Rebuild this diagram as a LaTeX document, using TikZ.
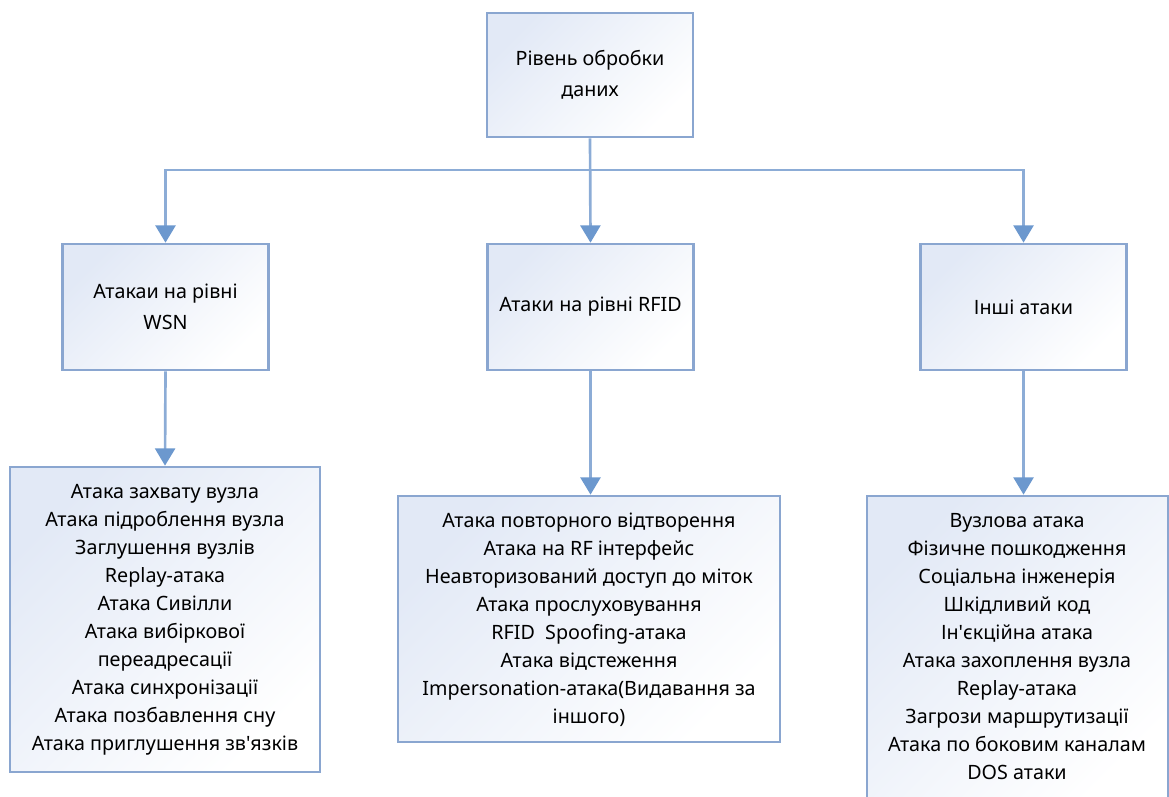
\documentclass[tikz,border=0pt]{standalone}
\usepackage{fontspec}
\setmainfont{Noto Sans}[Ligatures=TeXOff]
\usetikzlibrary{arrows.meta}
\definecolor{lineblue}{RGB}{140,172,214}
\definecolor{tipblue}{RGB}{108,152,206}
\definecolor{boxline}{RGB}{138,166,208}
\definecolor{shadeblue}{RGB}{226,233,246}
\tikzset{
  box/.style={draw=boxline, line width=2pt, rectangle, inner sep=0pt,
    top color=shadeblue, bottom color=white, shading angle=45,
    align=center, font=\fontsize{14.8}{23.3}\selectfont},
  listtext/.style={align=center, inner sep=0pt, font=\fontsize{14.8}{21}\selectfont},
  conn/.style={draw=lineblue, line width=2pt},
  arr/.style={conn, -{Triangle[width=15pt,length=13pt,fill=tipblue,color=tipblue]}},
}
\begin{document}
\begin{tikzpicture}[x=0.75pt,y=-0.75pt]
\useasboundingbox (0,0) rectangle (1169,796);
% top level
\node[box, minimum width=154.5pt, minimum height=93pt] (top) at (590,75) {Рівень обробки\\даних};
% second level
\node[box, minimum width=154.5pt, minimum height=94.5pt] (wsn) at (165.5,307) {Атакаи на рівні\\WSN};
\node[box, minimum width=154.5pt, minimum height=94.5pt] (rfid) at (590.5,307) {Атаки на рівні RFID};
\node[box, minimum width=154.5pt, minimum height=94.5pt] (other) at (1023.5,307) {Інші атаки};
% third level
\node[box, minimum width=232.5pt, minimum height=228.75pt] (wsnlist) at (165,619.5) {};
\node[listtext] (wsnt) at (165,620) {Атака захвату вузла\\Атака підроблення вузла\\Заглушення вузлів\\Replay-атака\\Атака Сивілли\\Атака вибіркової\\переадресації\\Атака синхронізації\\Атака позбавлення сну\\Атака приглушення зв'язків};
\node[box, minimum width=286.5pt, minimum height=184.5pt] (rfidlist) at (589,619) {};
\node[listtext] (rfidt) at (589,619.5) {Атака повторного відтворення\\Атака на RF інтерфейс\\Неавторизований доступ до міток\\Атака прослуховування\\RFID\ \ Spoofing-атака\\Атака відстеження\\Impersonation-атака(Видавання за\\іншого)};
\node[box, minimum width=225.75pt, minimum height=234pt] (otherlist) at (1017.5,652) {};
\node[listtext] (othert) at (1017,646.5) {Вузлова атака\\Фізичне пошкодження\\Соціальна інженерія\\Шкідливий код\\Ін'єкційна атака\\Атака захоплення вузла\\Replay-атака\\Загрози маршрутизації\\Атака по боковим каналам\\DOS атаки};
% connectors
\coordinate (bus) at (0,170);
\draw[arr] (top.south) -- (rfid.north);
\draw[arr] (top.south |- bus) -| (wsn.north);
\draw[arr] (top.south |- bus) -| (other.north);
\draw[arr] (wsn.south) -- (wsnlist.north);
\draw[arr] (rfid.south) -- (rfid.south |- rfidlist.north);
\draw[arr] (other.south) -- (other.south |- otherlist.north);
\end{tikzpicture}
\end{document}
